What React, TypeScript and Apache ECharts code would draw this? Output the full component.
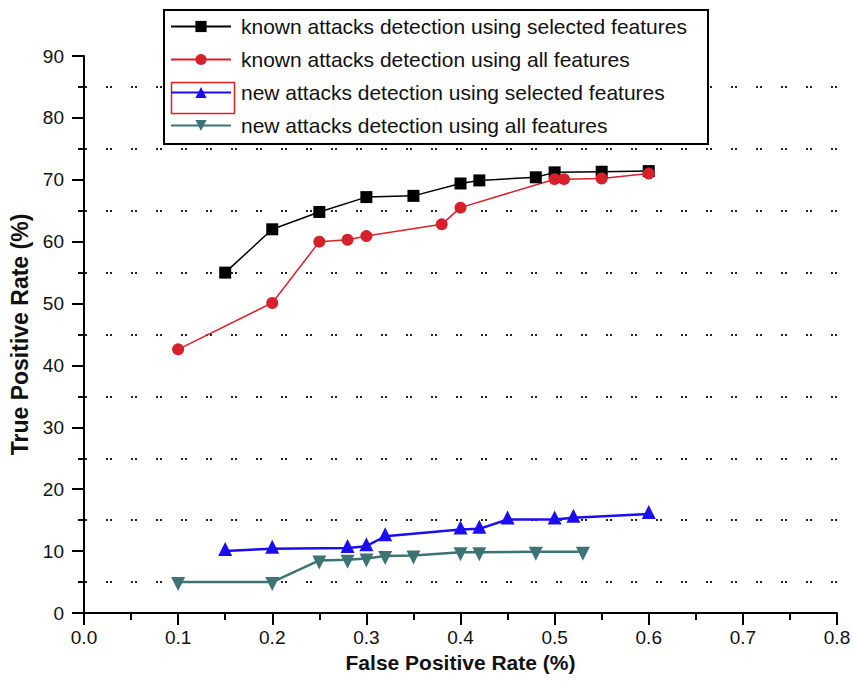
import React, { useEffect, useRef } from "react";
import * as echarts from "echarts";

const seriesNames = [
  "known attacks detection using selected features",
  "known attacks detection using all features",
  "new attacks detection using selected features",
  "new attacks detection using all features",
];

const fprKnownSelected = [0.15, 0.2, 0.25, 0.3, 0.35, 0.4, 0.42, 0.48, 0.5, 0.55, 0.6];
const tprKnownSelected = [55, 62, 64.8, 67.2, 67.4, 69.4, 69.9, 70.4, 71.2, 71.3, 71.4];

const fprKnownAll = [0.1, 0.2, 0.25, 0.28, 0.3, 0.38, 0.4, 0.5, 0.51, 0.55, 0.6];
const tprKnownAll = [42.6, 50.1, 60, 60.3, 60.9, 62.8, 65.5, 70.1, 70.1, 70.2, 71];

const fprNewSelected = [0.15, 0.2, 0.28, 0.3, 0.32, 0.4, 0.42, 0.45, 0.5, 0.52, 0.6];
const tprNewSelected = [10.0, 10.4, 10.5, 10.8, 12.4, 13.5, 13.6, 15.1, 15.1, 15.4, 16.0];

const fprNewAll = [0.1, 0.2, 0.25, 0.28, 0.3, 0.32, 0.35, 0.4, 0.42, 0.48, 0.53];
const tprNewAll = [5.0, 5.0, 8.5, 8.6, 8.8, 9.2, 9.3, 9.8, 9.8, 9.9, 9.9];

const xTitle = "False Positive Rate (%)";
const yTitle = "True Positive Rate (%)";

const zip = (xs: number[], ys: number[]) => xs.map((x, i) => [x, ys[i]]);

const FONT = "'Liberation Sans', Arial, sans-serif";

export default function App() {
  const ref = useRef<HTMLDivElement>(null);
  useEffect(() => {
    if (!ref.current) return;
    const chart = echarts.init(ref.current, undefined, { renderer: "svg" });
    chart.setOption({
      animation: false,
      backgroundColor: "#ffffff",
      textStyle: { fontFamily: FONT },
      grid: { left: 84, right: 17, top: 56, bottom: 69, containLabel: false },
      legend: {
        orient: "vertical",
        left: 170,
        top: 16,
        padding: 0,
        z: 10,
        itemWidth: 60,
        itemHeight: 14,
        itemGap: 12,
        textStyle: { fontSize: 21, color: "#111", fontFamily: FONT, padding: [0, 0, 0, 5] },
        data: seriesNames,
      },
      graphic: [
        {
          type: "rect",
          left: 163,
          top: 9,
          z: 8,
          shape: { width: 544, height: 134 },
          style: { fill: "#ffffff", stroke: "#000", lineWidth: 2 },
        },
        {
          type: "rect",
          left: 169,
          top: 80,
          z: 9,
          shape: { width: 63, height: 31 },
          style: { fill: "none", stroke: "#e02020", lineWidth: 1.5 },
        },
      ],
      xAxis: {
        type: "value",
        min: 0,
        max: 0.8,
        interval: 0.1,
        name: xTitle,
        nameLocation: "middle",
        nameGap: 36,
        nameTextStyle: { fontSize: 21, fontWeight: "bold", color: "#111", fontFamily: FONT },
        axisLine: { show: true, onZero: false, lineStyle: { color: "#000", width: 2 } },
        axisTick: { show: true, inside: false, length: 12, lineStyle: { color: "#000", width: 2 } },
        minorTick: { show: true, splitNumber: 2, length: 7, lineStyle: { color: "#000", width: 2 } },
        axisLabel: {
          fontSize: 19,
          color: "#111",
          margin: 15,
          fontFamily: FONT,
          formatter: (v: number) => v.toFixed(1),
        },
        splitLine: { show: false },
      },
      yAxis: {
        type: "value",
        min: 0,
        max: 90,
        interval: 10,
        name: yTitle,
        nameLocation: "middle",
        nameGap: 50,
        nameTextStyle: { fontSize: 23, fontWeight: "bold", color: "#111", fontFamily: FONT },
        axisLine: { show: true, onZero: false, lineStyle: { color: "#000", width: 2 } },
        axisTick: { show: true, inside: false, length: 12, lineStyle: { color: "#000", width: 2 } },
        minorTick: { show: true, splitNumber: 2, length: 6, lineStyle: { color: "#000", width: 2 } },
        axisLabel: { fontSize: 19, color: "#111", margin: 20, fontFamily: FONT },
        splitLine: { show: false },
        minorSplitLine: {
          show: true,
          lineStyle: { color: "#222", width: 2, type: [2, 2, 2, 19], dashOffset: -22 },
        },
      },
      series: [
        {
          name: seriesNames[0],
          type: "line",
          data: zip(fprKnownSelected, tprKnownSelected),
          symbol: "rect",
          symbolSize: 12,
          color: "#000000",
          lineStyle: { color: "#000000", width: 1.5 },
          itemStyle: { color: "#000000" },
        },
        {
          name: seriesNames[1],
          type: "line",
          data: zip(fprKnownAll, tprKnownAll),
          symbol: "circle",
          symbolSize: 12,
          color: "#d8202a",
          lineStyle: { color: "#d8202a", width: 1.5 },
          itemStyle: { color: "#d8202a" },
        },
        {
          name: seriesNames[2],
          type: "line",
          data: zip(fprNewSelected, tprNewSelected),
          symbol: "triangle",
          symbolSize: 14,
          symbolOffset: [0, -2],
          color: "#1a0df0",
          lineStyle: { color: "#1a0df0", width: 2.5 },
          itemStyle: { color: "#1a0df0" },
        },
        {
          name: seriesNames[3],
          type: "line",
          data: zip(fprNewAll, tprNewAll),
          symbol: "triangle",
          symbolRotate: 180,
          symbolSize: 14,
          symbolOffset: [0, 2],
          color: "#3d7373",
          lineStyle: { color: "#3d7373", width: 2.5 },
          itemStyle: { color: "#3d7373" },
        },
      ],
    });
    return () => chart.dispose();
  }, []);
  return <div ref={ref} style={{ width: 854, height: 682, position: "absolute", left: 0, top: 0 }} />;
}
